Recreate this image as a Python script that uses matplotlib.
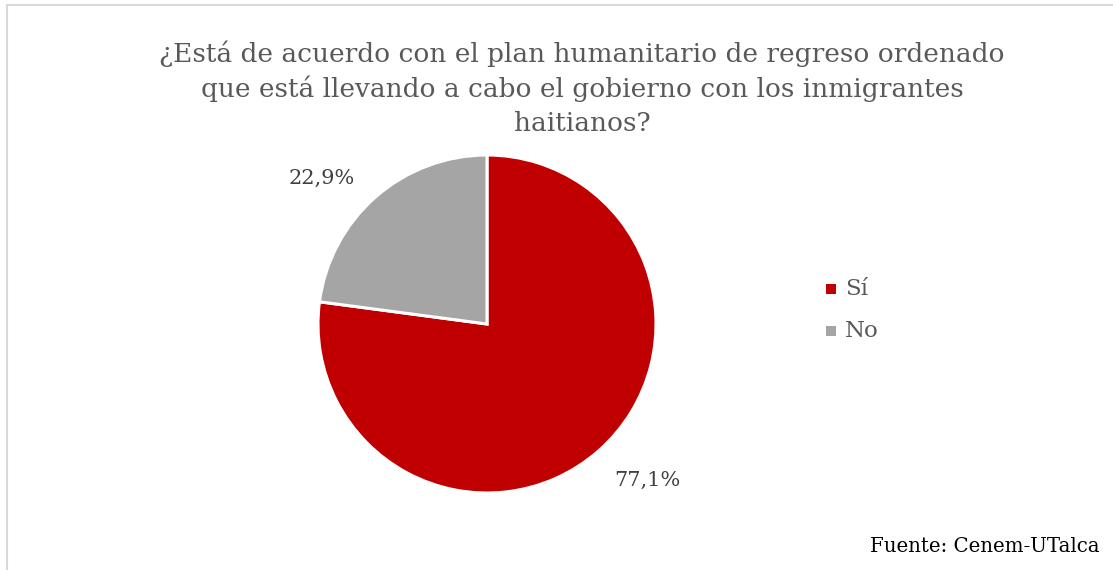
import matplotlib
matplotlib.use("Agg")
import matplotlib.pyplot as plt
from matplotlib.patches import Rectangle
from matplotlib.lines import Line2D

categories = ["Sí", "No"]
values = [77.1, 22.9]
labels_txt = ["77,1%", "22,9%"]
colors = ["#C00000", "#A5A5A5"]
title = "¿Está de acuerdo con el plan humanitario de regreso ordenado\nque está llevando a cabo el gobierno con los inmigrantes\nhaitianos?"
source = "Fuente: Cenem-UTalca"

W, H = 1113, 570
fig = plt.figure(figsize=(W/100, H/100), dpi=100)
fig.patch.set_facecolor("white")
serif = ["DejaVu Serif"]

# border lines (top and left)
fig.add_artist(Line2D([7/W, 1], [1-5/H, 1-5/H], color="#D9D9D9", lw=1.5, transform=fig.transFigure))
fig.add_artist(Line2D([7/W, 7/W], [0, 1-5/H], color="#D9D9D9", lw=1.5, transform=fig.transFigure))

# pie axes: center (487,324), radius 169
cx, cy, r = 487, 324, 169
ax = fig.add_axes([(cx-r)/W, 1-(cy+r)/H, 2*r/W, 2*r/H])
wedges, _ = ax.pie(values, colors=colors, startangle=90, counterclock=False,
                   wedgeprops=dict(edgecolor="white", linewidth=2.2), radius=1.0)
ax.set_xlim(-1, 1); ax.set_ylim(-1, 1)
ax.set_aspect("auto")
ax.axis("off")

# percent labels
fig.text(647/W, 1-480/H, labels_txt[0], ha="center", va="center", fontsize=15, color="#404040", family=serif)
fig.text(322/W, 1-178/H, labels_txt[1], ha="center", va="center", fontsize=15, color="#404040", family=serif)

# title
fig.text(582/W, 1-88/H, title, ha="center", va="center", fontsize=19, color="#595959",
         family=serif, linespacing=1.42)

# legend
for i, (cat, col) in enumerate(zip(categories, colors)):
    y = 289 + i*42
    fig.add_artist(Rectangle(((826)/W, 1-(y+5)/H), 10/W, 10/H, facecolor=col, edgecolor="none",
                             transform=fig.transFigure))
    fig.text(845/W, 1-y/H, cat, ha="left", va="center", fontsize=16.5, color="#595959", family=serif)

# source
fig.text(1099/W, 1-546/H, source, ha="right", va="center", fontsize=14.2, color="black", family=serif)

fig.savefig("out.png", dpi=100, facecolor="white")
